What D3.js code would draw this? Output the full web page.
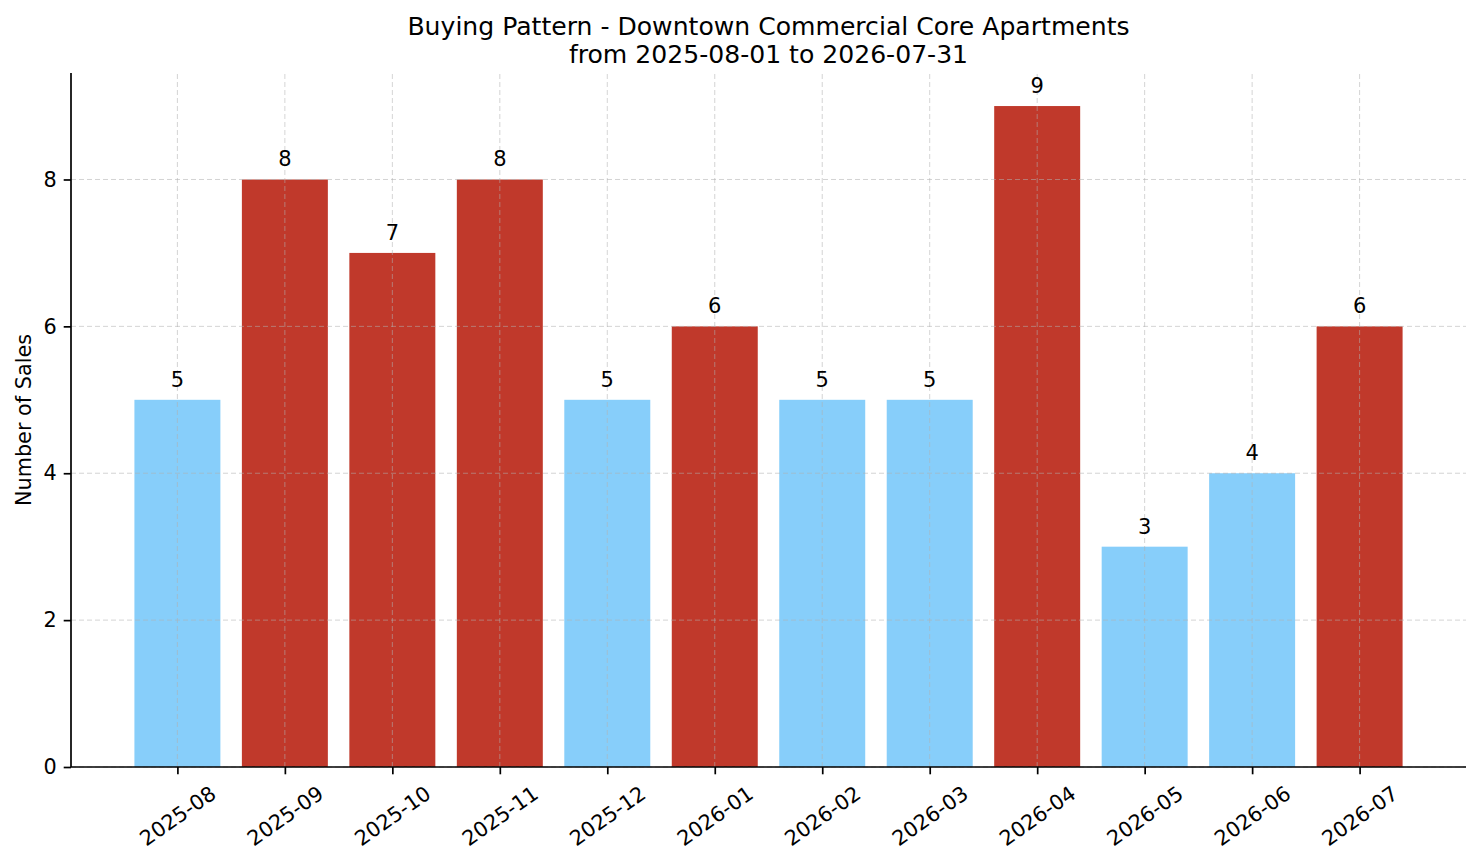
<!DOCTYPE html>
<html>
<head>
<meta charset="utf-8">
<script src="https://cdn.jsdelivr.net/npm/d3@7"></script>
<style>
  body { margin: 0; background: #fff; }
  svg text { font-family: "DejaVu Sans", sans-serif; fill: #000; }
</style>
</head>
<body>
<div class="chart"></div>
<script>
// chart data
const months = ["2025-08", "2025-09", "2025-10", "2025-11", "2025-12", "2026-01",
                "2026-02", "2026-03", "2026-04", "2026-05", "2026-06", "2026-07"];
const sales = [5, 8, 7, 8, 5, 6, 5, 5, 9, 3, 4, 6];
const yTicks = [0, 2, 4, 6, 8];
const titleLines = ["Buying Pattern - Downtown Commercial Core Apartments",
                    "from 2025-08-01 to 2026-07-31"];

function setupChart() {
    const width = 1481;
    const height = 863;
    const margin = {'top': 73, 'right': 15, 'bottom': 96, 'left': 71};

    const svg = d3.select('.chart')
      .append('svg')
      .attr('width', width)
      .attr('height', height);

    // matplotlib-like limits: bars of width 0.8 plus 5% margins
    const n = months.length;
    const span = (n - 1) + 0.8;
    const x = d3.scaleLinear()
        .domain([-0.4 - span * 0.05, n - 1 + 0.4 + span * 0.05])
        .range([margin.left, width - margin.right]);
    const y = d3.scaleLinear()
        .domain([0, d3.max(sales) * 1.05])
        .range([height - margin.bottom, margin.top]);

    return { svg, x, y, width, height, margin };
}

function drawChart(cfg) {
    const { svg, x, y } = cfg;
    const mean = d3.mean(sales);
    const bw = x(0.8) - x(0);
    const tickLen = 7.3;

    // bars
    svg.append('g').selectAll('rect')
      .data(sales)
      .enter().append('rect')
        .attr('x', (d, i) => x(i) - bw / 2)
        .attr('y', d => y(d))
        .attr('width', bw)
        .attr('height', d => y(0) - y(d))
        .attr('fill', d => d > mean ? '#C0392B' : '#87CEFA');

    // grid (on top, faint)
    const grid = svg.append('g')
        .attr('stroke', '#b0b0b0')
        .attr('stroke-opacity', 0.55)
        .attr('stroke-width', 1)
        .attr('stroke-dasharray', '5,3');
    grid.selectAll('.gx')
      .data(months)
      .enter().append('line')
        .attr('x1', (d, i) => x(i)).attr('x2', (d, i) => x(i))
        .attr('y1', y.range()[0]).attr('y2', y.range()[1]);
    grid.selectAll('.gy')
      .data(yTicks)
      .enter().append('line')
        .attr('x1', x.range()[0]).attr('x2', x.range()[1])
        .attr('y1', d => y(d)).attr('y2', d => y(d));

    // value labels
    svg.append('g').selectAll('text')
      .data(sales)
      .enter().append('text')
        .attr('x', (d, i) => x(i))
        .attr('y', d => y(d) - 13)
        .attr('text-anchor', 'middle')
        .style('font-size', '21px')
        .text(d => d);

    // y axis
    const yAxis = svg.append('g')
        .attr('transform', `translate(${x.range()[0]},0)`)
        .call(d3.axisLeft(y).tickValues(yTicks).tickSize(tickLen).tickPadding(7));
    yAxis.select('.domain').attr('stroke', '#000').attr('stroke-width', 1.7)
        .attr('d', `M0,${y.range()[0]}V${y.range()[1]}`);
    yAxis.selectAll('.tick line').attr('stroke', '#000').attr('stroke-width', 1.7);
    yAxis.selectAll('.tick text').style('font-size', '20.8px').attr('fill', '#000');

    // x axis
    const xAxis = svg.append('g')
        .attr('transform', `translate(0,${y.range()[0]})`)
        .call(d3.axisBottom(x).tickValues(d3.range(months.length))
              .tickFormat(i => months[i]).tickSize(tickLen));
    xAxis.select('.domain').attr('stroke', '#000').attr('stroke-width', 1.7)
        .attr('d', `M${x.range()[0]},0H${x.range()[1]}`);
    xAxis.selectAll('.tick line').attr('stroke', '#000').attr('stroke-width', 1.7);
    xAxis.selectAll('.tick text')
        .style('font-size', '20.8px')
        .attr('fill', '#000')
        .attr('text-anchor', 'middle')
        .attr('dy', null)
        .attr('dominant-baseline', 'central')
        .attr('y', 49)
        .attr('transform', 'rotate(-35, 0, 49)');

    // y label
    svg.append('text')
        .attr('transform', `translate(31, ${(y.range()[0] + y.range()[1]) / 2}) rotate(-90)`)
        .attr('text-anchor', 'middle')
        .style('font-size', '20.8px')
        .text('Number of Sales');

    // title
    svg.append('g').selectAll('text')
      .data(titleLines)
      .enter().append('text')
        .attr('x', (x.range()[0] + x.range()[1]) / 2)
        .attr('y', (d, i) => 34.5 + i * 28)
        .attr('text-anchor', 'middle')
        .style('font-size', '25.1px')
        .text(d => d);
}

const chartConfig = setupChart();
drawChart(chartConfig);
</script>
</body>
</html>
